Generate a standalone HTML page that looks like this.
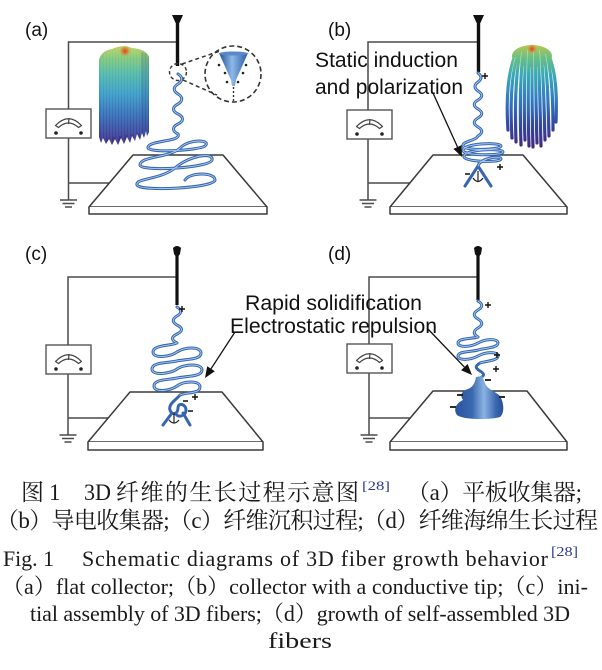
<!DOCTYPE html>
<html><head><meta charset="utf-8"><style>
html,body{margin:0;padding:0;background:#fff}
svg{display:block}
.w{fill:none;stroke:#4a4a4a;stroke-width:1.5}
.pl{fill:#fff;stroke:#3a3a3a;stroke-width:1.5;stroke-linejoin:round}
.fo{fill:none;stroke:#3567b0;stroke-width:3;stroke-linecap:round;stroke-linejoin:round}
.fi{fill:none;stroke:#aecbee;stroke-width:0.9;stroke-linecap:round}
.sg{fill:none;stroke:#111;stroke-width:1.4}
.lab{font-family:"Liberation Sans",Arial,sans-serif;fill:#111}
.cap{font-family:"Liberation Serif","Noto Serif CJK SC",serif;fill:#1a1a1a}
</style></head><body>
<svg width="602" height="670" viewBox="0 0 602 670" xmlns="http://www.w3.org/2000/svg">
<defs>
<linearGradient id="mopA" gradientUnits="userSpaceOnUse" x1="0" y1="47" x2="0" y2="145">
<stop offset="0" stop-color="#b9d262"/><stop offset="0.12" stop-color="#7cc77c"/><stop offset="0.28" stop-color="#4fb7aa"/><stop offset="0.48" stop-color="#3a9bc8"/><stop offset="0.68" stop-color="#3470b8"/><stop offset="0.86" stop-color="#3a4aa0"/><stop offset="1" stop-color="#3c2c80"/>
</linearGradient>
<linearGradient id="mopB" gradientUnits="userSpaceOnUse" x1="0" y1="45" x2="0" y2="147">
<stop offset="0" stop-color="#b8c850"/><stop offset="0.12" stop-color="#6cc080"/><stop offset="0.3" stop-color="#38a8b8"/><stop offset="0.55" stop-color="#3278c0"/><stop offset="0.78" stop-color="#3448a0"/><stop offset="1" stop-color="#42287a"/>
</linearGradient>
<radialGradient id="spot"><stop offset="0" stop-color="#e0401a"/><stop offset="0.5" stop-color="#e07030" stop-opacity="0.7"/><stop offset="1" stop-color="#e0a040" stop-opacity="0"/></radialGradient>
<linearGradient id="cone" x1="0" y1="0" x2="1" y2="0">
<stop offset="0" stop-color="#1f4f9a"/><stop offset="0.45" stop-color="#8fb8e6"/><stop offset="1" stop-color="#2a5aa6"/>
</linearGradient>
<linearGradient id="blob" x1="0" y1="0" x2="1" y2="0">
<stop offset="0" stop-color="#2a55a0"/><stop offset="0.35" stop-color="#3a68b0"/><stop offset="0.6" stop-color="#8cb4e2"/><stop offset="0.85" stop-color="#3a66ae"/><stop offset="1" stop-color="#24509a"/>
</linearGradient>
<g id="meter">
<rect x="0" y="0" width="45" height="29" fill="#fff" stroke="#555" stroke-width="1.4"/>
<path d="M9.5,16.5 Q22.5,3 35.5,16.5 L32.5,18.5 Q22.5,9.5 12.5,18.5 Z" fill="#fff" stroke="#444" stroke-width="1.2" stroke-linejoin="round"/>
<line x1="22.5" y1="15" x2="23" y2="9" stroke="#444" stroke-width="1.2"/>
<circle cx="10" cy="24" r="1.8" fill="#222"/><circle cx="35" cy="24" r="1.8" fill="#222"/>
</g>
<g id="gnd">
<line x1="-8.5" y1="0" x2="8.5" y2="0" stroke="#4a4a4a" stroke-width="1.5"/>
<line x1="-6" y1="3.5" x2="6" y2="3.5" stroke="#4a4a4a" stroke-width="1.5"/>
<line x1="-3.5" y1="7" x2="3.5" y2="7" stroke="#4a4a4a" stroke-width="1.5"/>
</g>
</defs>
<rect width="602" height="670" fill="#fff"/>

<!-- ================= PANEL A ================= -->
<path class="w" d="M68.5,109 V42 H177 M68.5,138 V200 M68.5,183 H109"/>
<use href="#meter" x="46" y="109"/>
<use href="#gnd" x="68.5" y="200"/>
<path class="pl" d="M133,155 H223 L267,207 H89 Z"/>
<path class="pl" d="M89,207 V214 H267 V207"/>
<path d="M172,15 H183 L178.5,25 H176.5 Z" fill="#111"/>
<line x1="177.5" y1="24" x2="177.5" y2="66" stroke="#111" stroke-width="3.4"/>
<path d="M99,60 Q101,51 112,49 Q122,44 132,48 Q146,49 149,57 L149,132 L147,136 L146,131 L144,138 L142,133 L140,140 L137,134 L135,141 L132,136 L130,143 L127,137 L124,144 L121,138 L118,145 L115,139 L112,145 L109,139 L106,144 L103,138 L101,143 L99,137 Z" fill="url(#mopA)"/>
<path d="M141,52 Q147,52 149,57 L149,132 L147,136 L146,131 L144,138 L142,133 L141,136 Z" fill="#1a3070" opacity="0.18"/>
<g stroke="#fff" stroke-width="0.7" opacity="0.22">
<path d="M102,58 V140 M105,54 V142 M108,52 V138 M111,50 V143 M114,50 V137 M117,49 V143 M120,48 V136 M123,48 V142 M126,48 V135 M129,48 V141 M132,48 V134 M135,49 V139 M138,50 V133 M141,52 V137 M144,53 V134 M147,55 V133"/>
</g>
<circle cx="125" cy="51" r="6" fill="url(#spot)"/>
<circle cx="178" cy="72" r="8.5" fill="none" stroke="#333" stroke-width="1.4" stroke-dasharray="3.5,2.5"/>
<circle cx="233" cy="74" r="28" fill="none" stroke="#333" stroke-width="1.6" stroke-dasharray="5,3"/>
<path d="M182,64 L220,51 M183,80 L217,95" stroke="#333" stroke-width="1.5" stroke-dasharray="4,3" fill="none"/>
<path d="M219,53 H248 L236,80 L235,86 H232 L231,80 Z" fill="url(#cone)"/>
<ellipse cx="233.5" cy="53.5" rx="14.5" ry="2" fill="#5a88c8"/>
<path d="M233.5,87 V101" stroke="#333" stroke-width="1.4" stroke-dasharray="2,2"/>
<g fill="#222"><circle cx="219" cy="65" r="1.3"/><circle cx="225" cy="73" r="1.3"/><circle cx="227" cy="82" r="1.3"/><circle cx="246" cy="65" r="1.3"/><circle cx="243" cy="73" r="1.3"/><circle cx="238" cy="82" r="1.3"/></g>
<path class="fo" d="M178,74 c5,3 5,7 0,10 c-5,3 -5,7 0,10 c5,3 5,7 0,10 c-6,3 -6,7 0,10 c6,3 6,7 0,10 c-6,3 -6,7 0,10 C182,142 150,140 148,147 C146,154 200,150 205,146 C212,140 190,138 180,148 C170,158 140,156 140,165 C140,172 210,168 212,160 C214,152 190,155 175,168 C160,180 135,178 137,185 C140,192 215,188 215,180 C215,172 190,172 185,180"/>
<path class="fi" d="M178,74 c5,3 5,7 0,10 c-5,3 -5,7 0,10 c5,3 5,7 0,10 c-6,3 -6,7 0,10 c6,3 6,7 0,10 c-6,3 -6,7 0,10 C182,142 150,140 148,147 C146,154 200,150 205,146 C212,140 190,138 180,148 C170,158 140,156 140,165 C140,172 210,168 212,160 C214,152 190,155 175,168 C160,180 135,178 137,185 C140,192 215,188 215,180 C215,172 190,172 185,180"/>
<text class="lab" x="25" y="36" font-size="19">(a)</text>

<!-- ================= PANEL B ================= -->
<path class="w" d="M368,110 V42 H478 M368,137 V200 M368,183 H410"/>
<use href="#meter" x="347" y="110"/>
<use href="#gnd" x="368" y="200"/>
<path class="pl" d="M433,155 H523 L567,207 H390 Z"/>
<path class="pl" d="M390,207 V214 H567 V207"/>
<path d="M473,15 H484 L479.5,25 H477.5 Z" fill="#111"/>
<line x1="478.5" y1="24" x2="478.5" y2="72" stroke="#111" stroke-width="3.4"/>
<ellipse cx="532" cy="56" rx="20" ry="11" fill="url(#mopB)"/>
<g fill="none" stroke="url(#mopB)" stroke-width="3.2" stroke-linecap="round">
<path d="M514,58 C508,75 506,100 508,130"/>
<path d="M517,55 C511,78 510,105 512,138"/>
<path d="M520,53 C515,80 515,110 516,142"/>
<path d="M523,51 C520,80 520,115 521,145"/>
<path d="M526,50 C524,85 524,115 525,140"/>
<path d="M529,49 C528,85 528,118 529,146"/>
<path d="M532,49 C532,85 532,118 533,147"/>
<path d="M535,49 C536,85 536,115 537,143"/>
<path d="M538,50 C540,82 540,112 541,146"/>
<path d="M541,51 C544,80 544,110 545,140"/>
<path d="M544,53 C548,78 548,105 549,136"/>
<path d="M547,55 C552,76 553,100 553,130"/>
<path d="M550,58 C556,75 557,95 556,122"/>
</g>
<g fill="none" stroke="#e8f4ff" stroke-width="0.7" opacity="0.55">
<path d="M515.5,57 C509.5,76 508,102 510,134"/>
<path d="M521.5,52 C517.5,80 517.5,112 518.5,143"/>
<path d="M527.5,50 C526,85 526,116 527,143"/>
<path d="M533.5,49 C534,85 534,116 535,145"/>
<path d="M539.5,50 C542,82 542,111 543,143"/>
<path d="M545.5,54 C550,77 550.5,102 551,133"/>
</g>
<circle cx="532" cy="49" r="5" fill="url(#spot)"/>
<path class="fo" d="M478,73 c4,3 4,6 0,9 c-4,3 -4,6 0,9 c5,3 5,6 0,9 c-5,3 -5,6 0,9 c5,3 5,6 0,9 c-5,3 -5,6 0,9 c5,3 5,6 0,9 C476,141 462,141 463,146 C464,151 501,150 501,146 C501,142 465,143 463,150 C461,156 503,156 503,152 C503,148 466,149 464,156 C462,162 501,163 501,159 C501,155 480,158 478,166 M478,166 L465,186 M478,166 L491,186"/>
<path class="fi" d="M478,73 c4,3 4,6 0,9 c-4,3 -4,6 0,9 c5,3 5,6 0,9 c-5,3 -5,6 0,9 c5,3 5,6 0,9 c-5,3 -5,6 0,9 c5,3 5,6 0,9 C476,141 462,141 463,146 C464,151 501,150 501,146 C501,142 465,143 463,150 C461,156 503,156 503,152 C503,148 466,149 464,156 C462,162 501,163 501,159 C501,155 480,158 478,166"/>
<path d="M478,171 V181 M473,178 Q478,185 483,178" stroke="#222" stroke-width="1.2" fill="none"/>
<path class="sg" d="M482,76 H488 M485,73 V79 M497,167 H503 M500,164 V170 M465,174 H470"/>
<line x1="433" y1="93" x2="457.5" y2="147" stroke="#111" stroke-width="1.3"/>
<polygon points="462,157 453.4,148.9 461.6,145.1" fill="#111"/>
<text class="lab" x="328" y="36" font-size="19">(b)</text>
<text class="lab" x="315" y="67" font-size="21" textLength="143" lengthAdjust="spacingAndGlyphs">Static induction</text>
<text class="lab" x="315" y="94" font-size="21" textLength="148" lengthAdjust="spacingAndGlyphs">and polarization</text>

<!-- ================= PANEL C ================= -->
<path class="w" d="M68,345 V277 H177 M68,374 V435 M68,418 H108"/>
<use href="#meter" x="46" y="345"/>
<use href="#gnd" x="68" y="435"/>
<path class="pl" d="M130,392 H222 L263,442 H88 Z"/>
<path class="pl" d="M88,442 V450 H263 V442"/>
<path d="M173,248 Q177,244 181,248 L180,254 Q177,259 174,254 Z" fill="#111"/>
<line x1="177" y1="255" x2="177" y2="305" stroke="#111" stroke-width="3.2"/>
<path class="fo" d="M177,307 c5,3 5,6 0,9 c-5,3 -5,6 0,9 c6,3 6,6 0,9 c-6,3 -6,6 0,9 C170,346 153,345 153,352 C153,359 170,357 177,352 C184,347 201,346 201,353 C201,360 186,359 177,361 C168,363 152,362 152,369 C152,376 170,374 177,369 C184,364 202,363 202,370 C202,377 186,376 177,378 C168,380 154,379 154,386 C154,393 170,391 177,386 C184,381 200,380 200,387 C200,394 186,392 180,395 C176,400 168,404 170,410 C172,416 178,414 178,408 C178,402 186,404 186,410 C186,416 178,418 176,414 M172,413 L163,425 M183,413 L190,425"/>
<path class="fi" d="M177,307 c5,3 5,6 0,9 c-5,3 -5,6 0,9 c6,3 6,6 0,9 c-6,3 -6,6 0,9 C170,346 153,345 153,352 C153,359 170,357 177,352 C184,347 201,346 201,353 C201,360 186,359 177,361 C168,363 152,362 152,369 C152,376 170,374 177,369 C184,364 202,363 202,370 C202,377 186,376 177,378 C168,380 154,379 154,386 C154,393 170,391 177,386 C184,381 200,380 200,387 C200,394 186,392 180,395"/>
<path d="M174,413 V423 M169,420 Q174,426 179,420" stroke="#222" stroke-width="1.2" fill="none"/>
<path class="sg" d="M179,309 H185 M182,306 V312 M192,397 H198 M195,394 V400 M183,401 H188 M188,411 H193"/>
<line x1="235" y1="332" x2="211" y2="368.8" stroke="#111" stroke-width="1.3"/>
<polygon points="205,378 207.2,366.3 214.8,371.3" fill="#111"/>
<text class="lab" x="25" y="260" font-size="19">(c)</text>

<!-- ================= PANEL D ================= -->
<path class="w" d="M369,344 V277 H478 M369,373 V435 M369,418 H410"/>
<use href="#meter" x="347" y="344"/>
<use href="#gnd" x="369" y="435"/>
<path class="pl" d="M433,391 H527 L567,442 H390 Z"/>
<path class="pl" d="M390,442 V450 H567 V442"/>
<path d="M474,248 Q478,244 482,248 L481,254 Q478,259 475,254 Z" fill="#111"/>
<line x1="478" y1="255" x2="478" y2="300" stroke="#111" stroke-width="3.2"/>
<path class="fo" d="M478,301 c5,3 5,6 0,9 c-5,3 -5,6 0,9 c5,3 5,6 0,9 c-5,3 -5,6 0,9 C471,339 458,338 458,343 C458,348 471,347 478,343 C485,339 498,338 498,343 C498,348 485,348 478,350 C471,352 458,351 458,356 C458,361 471,360 478,356 C485,352 498,351 498,356 C498,361 485,361 480,363 c-5,3 -5,5 0,8 c5,3 5,5 -2,8"/>
<path class="fi" d="M478,301 c5,3 5,6 0,9 c-5,3 -5,6 0,9 c5,3 5,6 0,9 c-5,3 -5,6 0,9 C471,339 458,338 458,343 C458,348 471,347 478,343 C485,339 498,338 498,343 C498,348 485,348 478,350 C471,352 458,351 458,356 C458,361 471,360 478,356 C485,352 498,351 498,356 C498,361 485,361 480,363"/>
<path d="M476,377 C475,383 473,387 468,389 C461,391 460,396 463,400 C456,403 453,410 457,415 C463,420 490,420 500,417 C505,413 504,401 499,395 C494,391 487,389 485,383 C484,380 483,378 482,376 Z" fill="url(#blob)"/>
<path class="sg" d="M485,305 H491 M488,302 V308 M494,355 H500 M497,352 V358 M493,369 H499 M496,366 V372" />
<path d="M485,380 H491 M457,395 H463 M450,407 H456 M499,397 H505" stroke="#111" stroke-width="1.8"/>
<line x1="427" y1="328" x2="464.4" y2="367.1" stroke="#111" stroke-width="1.3"/>
<polygon points="472,375 461.1,370.2 467.6,364" fill="#111"/>
<text class="lab" x="328" y="260" font-size="19">(d)</text>

<text class="lab" x="245" y="310" font-size="21" textLength="177" lengthAdjust="spacingAndGlyphs">Rapid solidification</text>
<text class="lab" x="230" y="333" font-size="21" textLength="207" lengthAdjust="spacingAndGlyphs">Electrostatic repulsion</text>

<!-- ================= CAPTION ================= -->
<text class="cap" x="21" y="500" font-size="23">图</text>
<text class="cap" x="49" y="500" font-size="23">1</text>
<text class="cap" x="84" y="500" font-size="23" textLength="27" lengthAdjust="spacingAndGlyphs">3D</text>
<text class="cap" x="116" y="500" font-size="23" textLength="243" lengthAdjust="spacing">纤维的生长过程示意图</text>
<text class="cap" x="362" y="490" font-size="13" style="fill:#2b3a8f" textLength="28" lengthAdjust="spacingAndGlyphs">[28]</text>
<text class="cap" x="407" y="500" font-size="23" textLength="175" lengthAdjust="spacing">（a）平板收集器;</text>
<text class="cap" x="-4" y="528" font-size="23" textLength="602" lengthAdjust="spacing">（b）导电收集器;（c）纤维沉积过程;（d）纤维海绵生长过程</text>
<text class="cap" x="3" y="566" font-size="22" textLength="51" lengthAdjust="spacingAndGlyphs">Fig. 1</text>
<text class="cap" x="82" y="566" font-size="22" textLength="466" lengthAdjust="spacing">Schematic diagrams of 3D fiber growth behavior</text>
<text class="cap" x="551" y="556" font-size="14" style="fill:#2b3a8f" textLength="27" lengthAdjust="spacingAndGlyphs">[28]</text>
<text class="cap" x="2" y="594" font-size="22" textLength="586" lengthAdjust="spacing">（a）flat collector;（b）collector with a conductive tip;（c）ini-</text>
<text class="cap" x="30" y="621" font-size="22" textLength="540" lengthAdjust="spacing">tial assembly of 3D fibers;（d）growth of self-assembled 3D</text>
<text class="cap" x="268" y="648" font-size="22" textLength="64" lengthAdjust="spacingAndGlyphs">fibers</text>
</svg>
</body></html>
